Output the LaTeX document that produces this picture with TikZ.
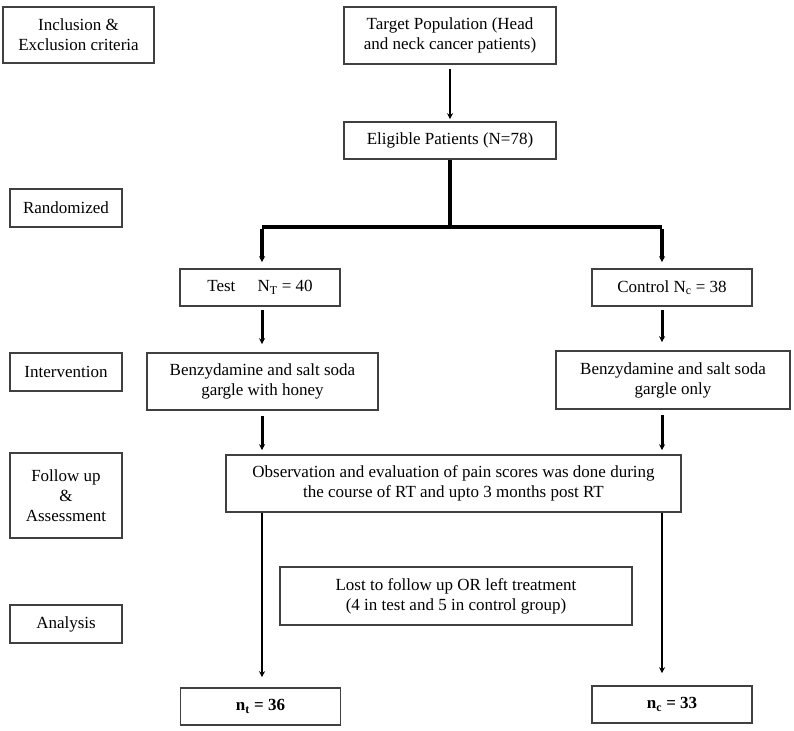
\documentclass[tikz,border=0pt]{standalone}
\usepackage{fontspec}
\setmainfont{Liberation Serif}
\usetikzlibrary{arrows.meta}
\tikzset{
  stage/.style={draw=black!75, line width=1.6pt, align=center, inner sep=2pt,
    font=\fontsize{17}{20}\selectfont},
  flow/.style={line width=3pt, -{Stealth[length=6pt,width=6pt]}, shorten >=8pt},
}
\begin{document}
\begin{tikzpicture}[x=1pt,y=-1pt]
            \useasboundingbox (0,0) rectangle (794,730);
            \fill[white] (0,0) rectangle (794,730);
            % column labels on the left
            \node[stage, minimum width=151, minimum height=56] (incl) at (78.5,35) {Inclusion \&\\Exclusion criteria};
            \node[stage, minimum width=112, minimum height=38] (rand) at (66,208) {Randomized};
            \node[stage, minimum width=112, minimum height=38] (interv) at (66,372) {Intervention};
            \node[stage, minimum width=112, minimum height=85] (follow) at (66,495.5) {Follow up\\\&\\Assessment};
            \node[stage, minimum width=112, minimum height=38] (analysis) at (66,624) {Analysis};
            % main flow
            \node[stage, minimum width=212, minimum height=57] (target) at (450,35.5) {Target Population (Head\\and neck cancer patients)};
            \node[stage, minimum width=212, minimum height=37] (elig) at (450,140.5) {Eligible Patients (N=78)};
            \node[stage, minimum width=160, minimum height=37] (test) at (260,287.5) {Test\hspace{1.3em}N\textsubscript{T} = 40};
            \node[stage, minimum width=160, minimum height=37] (control) at (672,287.5) {Control N\textsubscript{c} = 38};
            \node[stage, minimum width=231, minimum height=57] (benzT) at (262.5,381.5) {Benzydamine and salt soda\\gargle with honey};
            \node[stage, minimum width=234, minimum height=58] (benzC) at (673,380) {Benzydamine and salt soda\\gargle only};
            \node[stage, minimum width=455, minimum height=57] (obs) at (453.5,483.5) {Observation and evaluation of pain scores was done during\\the course of RT and upto 3 months post RT};
            \node[stage, minimum width=352, minimum height=58] (lost) at (456,596) {Lost to follow up OR left treatment\\(4 in test and 5 in control group)};
            \node[stage, minimum width=160, minimum height=37] (nt) at (260.5,706.5) {\textbf{n\textsubscript{t} = 36}};
            \node[stage, minimum width=160, minimum height=37] (nc) at (672,704.5) {\textbf{n\textsubscript{c} = 33}};
            % columns and split point
            \coordinate (colT) at (262,0);
            \coordinate (colC) at (662,0);
            \coordinate (split) at (450,227);
            % connectors
            \draw[flow, line width=2.2pt, shorten <=4pt, shorten >=2pt] (target) -- (elig);
            \draw[line width=4.5pt] (elig.south) -- (split);
            \draw[line width=4.5pt] (split -| colT) -- (split -| colC);
            \draw[flow, line width=3.2pt, shorten >=6pt] ([yshift=-2pt]split -| colT) -- (test.north -| colT);
            \draw[flow, line width=3.2pt, shorten >=6pt] ([yshift=-2pt]split -| colC) -- (control.north -| colC);
            \draw[flow, shorten <=3pt] (test.south -| colT) -- (benzT.north -| colT);
            \draw[flow, shorten <=3pt] (control.south -| colC) -- (benzC.north -| colC);
            \draw[flow, shorten <=5pt, shorten >=4pt] (benzT.south -| colT) -- (obs.north -| colT);
            \draw[flow, shorten <=5pt, shorten >=4pt] (benzC.south -| colC) -- (obs.north -| colC);
            \draw[flow, line width=2.6pt, shorten >=10pt] (obs.south -| colT) -- (nt.north -| colT);
            \draw[flow, line width=2.6pt, shorten >=12pt] (obs.south -| colC) -- (nc.north -| colC);
\end{tikzpicture}
\end{document}
